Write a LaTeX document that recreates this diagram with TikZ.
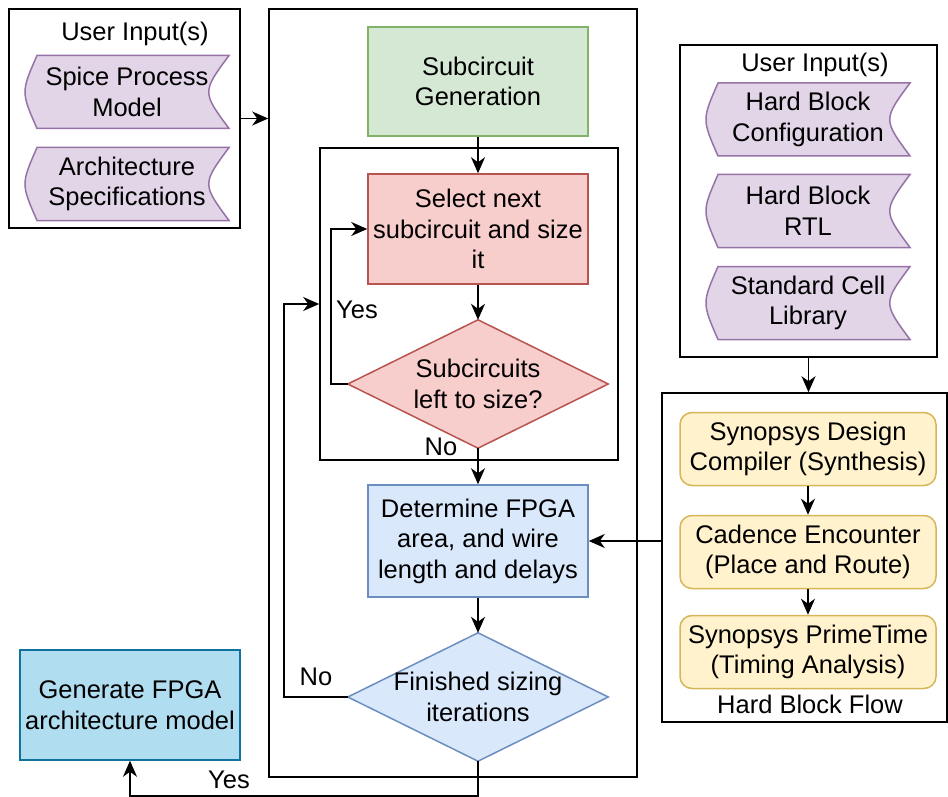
\documentclass[tikz,border=0pt]{standalone}
\usepackage{fontspec}
\setmainfont{Liberation Sans}
\usetikzlibrary{arrows.meta,backgrounds}

% draw.io palette
\definecolor{greenF}{HTML}{D5E8D4}\definecolor{greenD}{HTML}{82B366}
\definecolor{redF}{HTML}{F8CECC}\definecolor{redD}{HTML}{B85450}
\definecolor{blueF}{HTML}{DAE8FC}\definecolor{blueD}{HTML}{6C8EBF}
\definecolor{purpF}{HTML}{E1D5E7}\definecolor{purpD}{HTML}{9673A6}
\definecolor{yelF}{HTML}{FFF2CC}\definecolor{yelD}{HTML}{D6B656}
\definecolor{cyanF}{HTML}{B1DDF0}\definecolor{cyanD}{HTML}{10739E}

% stored-data shape drawn around a text node: convex left side, concave right side
\newcommand\storedata[4]{%
  \draw[purpD,fill=purpF,line width=1.5] ({#2-102+12},{#3-36.5}) -- ({#2+102},{#3-36.5})
     .. controls ({#2+102-27},{#3}) .. ({#2+102},{#3+36.5})
     -- ({#2-102+12},{#3+36.5})
     .. controls ({#2-102-4},{#3}) .. cycle;
  \node[txt] (#1) at (#2,#3) {#4};}

\begin{document}
\begin{tikzpicture}[x=1pt,y=-1pt,
  every node/.style={font=\fontsize{25.5}{30.5}\selectfont},
  txt/.style={align=center,inner sep=0},
  frame/.style={draw=black,line width=1.6,inner sep=0},
  proc/.style={draw,line width=1.5,align=center,inner sep=0,minimum width=220},
  flow/.style={line width=1.6,-{Stealth[length=16pt,width=14pt,inset=5pt]}},
  lbl/.style={inner sep=0}]
\useasboundingbox (0,0) rectangle (948,797);

% --- containers ---
\node[frame,minimum width=231,minimum height=219] (inL) at (124.5,118.5) {};
\node[frame,minimum width=368,minimum height=768] (main) at (453,393) {};
\node[frame,minimum width=298,minimum height=312] (inner) at (469,304) {};
\node[frame,minimum width=257,minimum height=312] (inR) at (808.5,201) {};
\node[frame,minimum width=285,minimum height=329] (hb) at (804.5,557.5) {};

% --- left user inputs ---
\node[txt] (uiL) at (135,34) {User Input(s)};
\storedata{spice}{127}{92}{Spice Process\\Model}
\storedata{arch}{127}{184}{Architecture\\Specifications}

% --- right user inputs ---
\node[txt] (uiR) at (815,65) {User Input(s)};
\storedata{hbc}{808}{119.5}{Hard Block\\Configuration}
\storedata{rtl}{808}{211}{Hard Block\\RTL}
\storedata{lib}{808}{303}{Standard Cell\\Library}

% --- main sizing flow ---
\node[proc,draw=greenD,fill=greenF,minimum height=109] (gen) at (478,81.5) {Subcircuit\\Generation};
\node[proc,draw=redD,fill=redF,minimum height=110] (sel) at (478,229) {Select next\\subcircuit and size\\it};
\node[txt,minimum width=260,minimum height=128] (d1) at (478,384) {Subcircuits\\left to size?};
\node[proc,draw=blueD,fill=blueF,minimum height=112] (det) at (478,541) {Determine FPGA\\area, and wire\\length and delays};
\node[txt,minimum width=260,minimum height=128] (d2) at (478,697) {Finished sizing\\iterations};
\node[proc,draw=cyanD,fill=cyanF,minimum height=110] (out) at (130,705) {Generate FPGA\\architecture model};

\begin{scope}[on background layer]
  \draw[redD,fill=redF,line width=1.5] (d1.north) -- (d1.east) -- (d1.south) -- (d1.west) -- cycle;
  \draw[blueD,fill=blueF,line width=1.5] (d2.north) -- (d2.east) -- (d2.south) -- (d2.west) -- cycle;
\end{scope}

% --- hard block flow ---
\begin{scope}[every node/.append style={draw=yelD,fill=yelF,line width=1.5,rounded corners=12,
    align=center,inner sep=0,minimum width=256,minimum height=73}]
  \node (syn) at (808,449) {Synopsys Design\\Compiler (Synthesis)};
  \node (pnr) at (808,552) {Cadence Encounter\\(Place and Route)};
  \node (sta) at (808,652) {Synopsys PrimeTime\\(Timing Analysis)};
\end{scope}
\node[txt] (hbl) at (810,704) {Hard Block Flow};

% --- connectors ---
\draw[flow] (inL.east) -- (inL.east -| main.west);
\draw[flow] (gen.south) -- (sel.north);
\draw[flow] (sel.south) -- (d1.north);
\draw[flow] (d1.west) -- ++(-17,0) |- (sel.west);
\draw[flow] (d1.south) -- (det.north);
\draw[flow] (det.south) -- (d2.north);
\draw[flow] (d2.west) -- ++(-64,0) |- (inner.west |- 0,304);
\draw[flow] (d2.south) -- ++(0,35) -| (out.south);
\draw[flow] (inR.south) -- (inR.south |- hb.north);
\draw[flow] (syn.south) -- (pnr.north);
\draw[flow] (pnr.south) -- (sta.north);
\draw[flow] (hb.west |- det.east) -- (det.east);

% --- branch labels ---
\node[lbl] (yes1) at (357,310) {Yes};
\node[lbl] (no1) at (441,447) {No};
\node[lbl] (no2) at (316,677) {No};
\node[lbl] (yes2) at (229,780) {Yes};
\end{tikzpicture}
\end{document}
